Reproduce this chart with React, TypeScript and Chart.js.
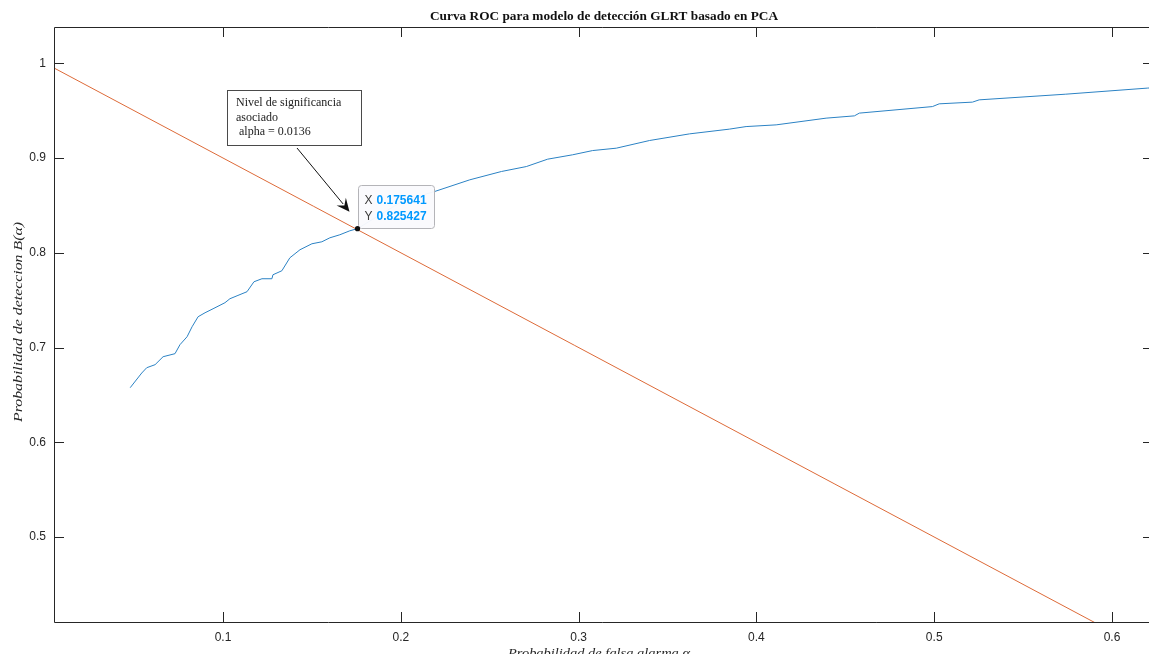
import React, { useEffect, useRef } from "react";
import { Chart, registerables } from "chart.js";

Chart.register(...registerables);

// ROC curve (false alarm probability vs detection probability)
const rocFpr = [
  0.0478, 0.0543, 0.0571, 0.0618, 0.0663, 0.073, 0.0758, 0.0798, 0.0826, 0.086,
  0.0899, 0.0944, 0.1011, 0.1039, 0.1079, 0.1135, 0.1174, 0.1219, 0.1275, 0.1281,
  0.1331, 0.1376, 0.1433, 0.15, 0.1556, 0.1601, 0.1657, 0.1713, 0.175641, 0.1882,
  0.1994, 0.2107, 0.2191, 0.2388, 0.2566, 0.2706, 0.2826, 0.2966, 0.3079, 0.3212,
  0.3399, 0.3624, 0.3848, 0.3942, 0.4111, 0.4392, 0.4551, 0.4579, 0.499, 0.5028,
  0.5215, 0.5253, 0.574, 0.6198, 0.63,
];
const rocTpr = [
  0.6576, 0.6731, 0.6787, 0.6819, 0.6903, 0.6935, 0.703, 0.7114, 0.7219, 0.7325,
  0.7367, 0.7409, 0.7473, 0.7515, 0.7546, 0.7589, 0.7694, 0.7726, 0.7726, 0.7768,
  0.781, 0.7947, 0.8032, 0.8095, 0.8116, 0.8158, 0.819, 0.8232, 0.825427, 0.84,
  0.8527, 0.8601, 0.8647, 0.877, 0.8858, 0.891, 0.8988, 0.9034, 0.9079, 0.9104,
  0.9185, 0.9255, 0.9305, 0.9332, 0.935, 0.9421, 0.9445, 0.9474, 0.9543, 0.9572,
  0.959, 0.9614, 0.9674, 0.9738, 0.975,
];
// reference line y = 1 - x
const lineX = [0, 0.7];
const lineY = [1, 0.3];
// data tip
const tipX = 0.175641;
const tipY = 0.825427;

const xTickValues = [0.1, 0.2, 0.3, 0.4, 0.5, 0.6];
const yTickValues = [0.5, 0.6, 0.7, 0.8, 0.9, 1];
const xMin = 0.00495;
const xMax = 0.6208;
const yMin = 0.4103;
const yMax = 1.0383;

const titleText = "Curva ROC para modelo de detección GLRT basado en PCA";
const xTitle = "Probabilidad de falsa alarma α";
const yTitle = "Probabilidad de deteccion B(α)";
const noteLines = ["Nivel de significancia", "asociado", " alpha = 0.0136"];

function fitText(
  ctx: CanvasRenderingContext2D,
  text: string,
  x: number,
  y: number,
  target: number,
  align: "left" | "center"
) {
  const w = ctx.measureText(text).width;
  const s = target / w;
  ctx.save();
  ctx.translate(x, y);
  ctx.scale(s, 1);
  ctx.textAlign = align;
  ctx.fillText(text, 0, 0);
  ctx.restore();
}

const decorPlugin = {
  id: "decor",
  afterDatasetsDraw(chart: any) {
    const ctx: CanvasRenderingContext2D = chart.ctx;
    const { left, right, top, bottom } = chart.chartArea;
    const xs = chart.scales.x;
    const ys = chart.scales.y;
    ctx.save();
    // axes box (right edge is beyond the visible area)
    ctx.strokeStyle = "#262626";
    ctx.lineWidth = 1;
    ctx.beginPath();
    ctx.moveTo(right + 5, top + 0.5);
    ctx.lineTo(left + 0.5, top + 0.5);
    ctx.lineTo(left + 0.5, bottom + 0.5);
    ctx.lineTo(right + 5, bottom + 0.5);
    ctx.stroke();
    // inward ticks
    ctx.beginPath();
    xTickValues.forEach((v) => {
      const px = Math.round(xs.getPixelForValue(v)) + 0.5;
      ctx.moveTo(px, bottom);
      ctx.lineTo(px, bottom - 10);
      ctx.moveTo(px, top);
      ctx.lineTo(px, top + 10);
    });
    yTickValues.forEach((v) => {
      const py = Math.round(ys.getPixelForValue(v)) + 0.5;
      ctx.moveTo(left, py);
      ctx.lineTo(left + 10, py);
      ctx.moveTo(right, py);
      ctx.lineTo(right - 6, py);
    });
    ctx.stroke();

    // title
    ctx.fillStyle = "#111";
    ctx.font = "bold 13px 'Liberation Serif'";
    ctx.textBaseline = "alphabetic";
    fitText(ctx, titleText, 604, 20, 348, "center");

    // axis titles
    ctx.fillStyle = "#262626";
    ctx.font = "italic 13px 'Liberation Serif'";
    fitText(ctx, xTitle, 599, 657, 182, "center");
    ctx.save();
    ctx.translate(22, 322);
    ctx.rotate(-Math.PI / 2);
    fitText(ctx, yTitle, 0, 0, 200, "center");
    ctx.restore();

    // annotation text box
    ctx.fillStyle = "#fff";
    ctx.fillRect(227.5, 90.5, 134, 55);
    ctx.strokeStyle = "#4a4a4a";
    ctx.strokeRect(227.5, 90.5, 134, 55);
    ctx.fillStyle = "#222";
    ctx.font = "12px 'Liberation Serif'";
    ctx.textAlign = "left";
    ctx.fillText(noteLines[0], 236, 106);
    ctx.fillText(noteLines[1], 236, 120.5);
    ctx.fillText(noteLines[2], 236, 135);

    // arrow
    const ax0 = 297, ay0 = 148;
    const ax1 = xs.getPixelForValue(tipX) - 8;
    const ay1 = ys.getPixelForValue(tipY) - 17;
    const ang = Math.atan2(ay1 - ay0, ax1 - ax0);
    const hl = 13, hw = 6;
    const bx = ax1 - hl * Math.cos(ang);
    const by = ay1 - hl * Math.sin(ang);
    ctx.strokeStyle = "#111";
    ctx.lineWidth = 1;
    ctx.beginPath();
    ctx.moveTo(ax0, ay0);
    ctx.lineTo(bx + 3 * Math.cos(ang), by + 3 * Math.sin(ang));
    ctx.stroke();
    ctx.fillStyle = "#111";
    ctx.beginPath();
    ctx.moveTo(ax1, ay1);
    ctx.lineTo(bx - hw * Math.sin(ang), by + hw * Math.cos(ang));
    ctx.lineTo(bx + 5 * Math.cos(ang), by + 5 * Math.sin(ang));
    ctx.lineTo(bx + hw * Math.sin(ang), by - hw * Math.cos(ang));
    ctx.closePath();
    ctx.fill();

    // data tip box
    const tx = xs.getPixelForValue(tipX);
    const ty = ys.getPixelForValue(tipY);
    const bxl = Math.round(tx) + 1.5;
    const byt = Math.round(ty) - 44 + 0.5;
    ctx.fillStyle = "rgba(250,250,253,0.96)";
    ctx.strokeStyle = "#b4b4b8";
    ctx.beginPath();
    (ctx as any).roundRect(bxl, byt, 76, 43, 3);
    ctx.fill();
    ctx.stroke();
    ctx.font = "12px 'Liberation Sans'";
    ctx.fillStyle = "#3c3c3c";
    ctx.fillText("X", bxl + 6, byt + 18);
    ctx.fillText("Y", bxl + 6, byt + 34);
    ctx.font = "bold 12px 'Liberation Sans'";
    ctx.fillStyle = "#0099ff";
    ctx.fillText(tipX.toFixed(6), bxl + 18, byt + 18);
    ctx.fillText(tipY.toFixed(6), bxl + 18, byt + 34);

    // data tip marker
    ctx.fillStyle = "#111";
    ctx.beginPath();
    ctx.arc(tx, ty, 2.6, 0, Math.PI * 2);
    ctx.fill();
    ctx.restore();
  },
};

export default function App() {
  const ref = useRef<HTMLCanvasElement | null>(null);
  useEffect(() => {
    if (!ref.current) return;
    const chart = new Chart(ref.current, {
      type: "line",
      data: {
        datasets: [
          {
            label: "ROC",
            data: rocFpr.map((x, i) => ({ x, y: rocTpr[i] })),
            borderColor: "#2b82c4",
            borderWidth: 1,
            pointRadius: 0,
            tension: 0,
          },
          {
            label: "1 - alpha",
            data: lineX.map((x, i) => ({ x, y: lineY[i] })),
            borderColor: "#dd6a38",
            borderWidth: 1,
            pointRadius: 0,
          },
        ],
      },
      options: {
        responsive: false,
        animation: false,
        devicePixelRatio: 1,
        layout: { padding: { top: 27, left: 0, right: 0, bottom: 0 } },
        plugins: {
          legend: { display: false },
          title: { display: false },
          tooltip: { enabled: false },
        },
        scales: {
          x: {
            type: "linear",
            min: xMin,
            max: xMax,
            grid: { display: false, drawTicks: false },
            border: { display: false },
            afterBuildTicks: (s: any) => {
              s.ticks = xTickValues.map((v) => ({ value: v }));
            },
            afterFit: (s: any) => {
              s.height = 32;
            },
            ticks: {
              padding: 8,
              maxRotation: 0,
              color: "#262626",
              font: { family: "'Liberation Sans'", size: 12 },
              callback: (v: any) => Number(v).toFixed(1),
            },
          },
          y: {
            type: "linear",
            min: yMin,
            max: yMax,
            grid: { display: false, drawTicks: false },
            border: { display: false },
            afterBuildTicks: (s: any) => {
              s.ticks = yTickValues.map((v) => ({ value: v }));
            },
            afterFit: (s: any) => {
              s.width = 54;
            },
            ticks: {
              padding: 8,
              color: "#262626",
              font: { family: "'Liberation Sans'", size: 12 },
              callback: (v: any) => (Number(v) === 1 ? "1" : Number(v).toFixed(1)),
            },
          },
        },
      },
      plugins: [decorPlugin],
    } as any);
    return () => chart.destroy();
  }, []);
  return (
    <div
      style={{
        position: "fixed",
        left: 0,
        top: 0,
        width: 1149,
        height: 654,
        background: "#fff",
        overflow: "hidden",
      }}
    >
      <canvas ref={ref} width={1149} height={654} />
    </div>
  );
}
